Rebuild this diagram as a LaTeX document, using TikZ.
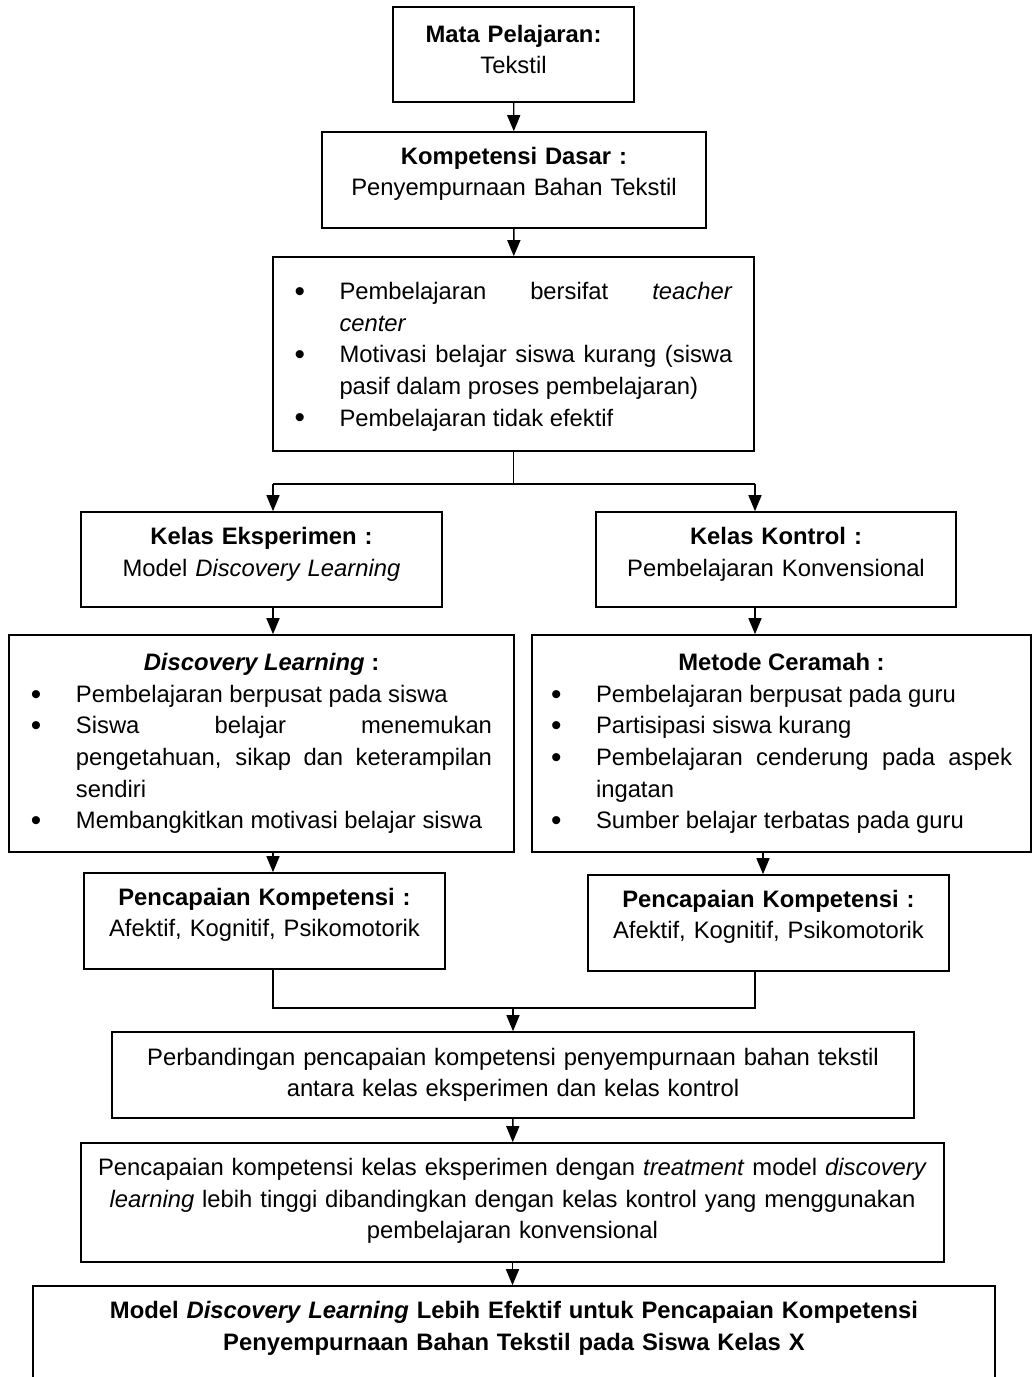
\documentclass[tikz,border=0pt]{standalone}
\usepackage{fontspec}
\usepackage{graphicx}
\setmainfont{Liberation Sans}
\usetikzlibrary{arrows.meta, positioning}
\hyphenpenalty=10000
\tolerance=9999
\hbadness=10000
\newlength{\jarakbutir}
\setlength{\jarakbutir}{22.5pt}
\newcommand{\titik}{\raisebox{-0.08em}{\scalebox{1.25}{\textbullet}}}
\newcommand{\butir}[1]{\par\noindent\hangindent=\jarakbutir\hangafter=1\makebox[\jarakbutir][l]{\titik}#1}
\newcommand{\ruangbawah}[1]{\par\vspace*{#1}}

\begin{document}
\begin{tikzpicture}[x=0.5pt, y=-0.5pt,
        kotak/.style={draw, line width=0.8pt, inner xsep=0pt, inner ysep=0pt, align=center,
            font=\fontsize{11.9}{15.8}\selectfont},
        angkat/.style={execute at end node={\ruangbawah{#1}}},
        garis/.style={line width=0.7pt},
        panah/.style={garis, -{Triangle[length=8pt, width=6.5pt]}}]
        \useasboundingbox (0,0) rectangle (1033,1377);

        \node[kotak, angkat=5pt, text width=110pt, minimum width=120.5pt, minimum height=47.5pt] (mapel) at (513.5,54.5)
            {\textbf{Mata Pelajaran:}\\ Tekstil};
        \node[kotak, angkat=6pt, text width=180pt, minimum width=192pt, minimum height=48pt] (kd) at (514,180)
            {\textbf{Kompetensi Dasar :}\\ Penyempurnaan Bahan Tekstil};
        \node[kotak, align=justify, angkat=4.5pt, text width=219pt, minimum width=240.5pt, minimum height=97pt] (masalah) at (513.5,354)
            {\butir{Pembelajaran bersifat \textit{teacher}\linebreak \textit{center}}%
             \butir{Motivasi belajar siswa kurang (siswa pasif dalam proses pembelajaran)}%
             \butir{Pembelajaran tidak efektif}};

        \node[kotak, angkat=5pt, text width=170pt, minimum width=180.5pt, minimum height=47.5pt] (eksp) at (261.5,559.5)
            {\textbf{Kelas Eksperimen :}\\ Model \textit{Discovery Learning}};
        \node[kotak, angkat=5pt, text width=170pt, minimum width=180pt, minimum height=47.5pt] (kontrol) at (776,559.5)
            {\textbf{Kelas Kontrol :}\\ Pembelajaran Konvensional};

        \node[kotak, align=justify, angkat=0pt, text width=230.5pt, minimum width=252.5pt, minimum height=108.5pt] (dl) at (261.5,743.5)
            {{\centering\textbf{\textit{Discovery Learning} :}\par}%
             \butir{Pembelajaran berpusat pada siswa}%
             \butir{Siswa belajar menemukan pengetahuan, sikap dan keterampilan sendiri}%
             \butir{Membangkitkan motivasi belajar siswa}};
        \node[kotak, align=justify, angkat=0pt, text width=230.5pt, minimum width=249.5pt, minimum height=108.5pt] (ceramah) at (781.5,743.5)
            {{\centering\textbf{Metode Ceramah :}\par}%
             \butir{Pembelajaran berpusat pada guru}%
             \butir{Partisipasi siswa kurang}%
             \butir{Pembelajaran cenderung pada aspek ingatan}%
             \butir{Sumber belajar terbatas pada guru}};

        \node[kotak, angkat=6pt, text width=170pt, minimum width=180.5pt, minimum height=48pt] (capai1) at (264.5,921)
            {\textbf{Pencapaian Kompetensi :}\\ Afektif, Kognitif, Psikomotorik};
        \node[kotak, angkat=6pt, text width=170pt, minimum width=180.5pt, minimum height=48pt] (capai2) at (768.5,923)
            {\textbf{Pencapaian Kompetensi :}\\ Afektif, Kognitif, Psikomotorik};

        \node[kotak, angkat=0pt, text width=390pt, minimum width=401pt, minimum height=43pt] (banding) at (513,1075)
            {Perbandingan pencapaian kompetensi penyempurnaan bahan tekstil\\ antara kelas eksperimen dan kelas kontrol};
        \node[kotak, angkat=1.5pt, text width=425pt, minimum width=431.5pt, minimum height=59.5pt] (hasil) at (512.5,1202.5)
            {Pencapaian kompetensi kelas eksperimen dengan \textit{treatment} model \textit{discovery}\\
             \textit{learning} lebih tinggi dibandingkan dengan kelas kontrol yang menggunakan\\
             pembelajaran konvensional};
        \node[kotak, angkat=27.5pt, text width=470pt, minimum width=481pt, minimum height=70pt] (simpulan) at (514,1356)
            {\textbf{Model \textit{Discovery Learning} Lebih Efektif untuk Pencapaian Kompetensi\\
             Penyempurnaan Bahan Tekstil pada Siswa Kelas X}};

        \coordinate (kiri) at (273,0);
        \coordinate (kanan) at (755,0);
        \coordinate (kananb) at (763,0);
        \coordinate (cabang) at (513,484);
        \coordinate (gabung) at (513,1008);

        \draw[panah] (mapel) -- (kd);
        \draw[panah] (kd) -- (masalah);
        \draw[garis] (masalah.south) -- (masalah.south |- cabang);
        \draw[garis] (cabang -| kiri) -- (cabang -| kanan);
        \draw[panah] (cabang -| kiri) -- (eksp.north -| kiri);
        \draw[panah] (cabang -| kanan) -- (kontrol.north -| kanan);
        \draw[panah] (eksp.south -| kiri) -- (dl.north -| kiri);
        \draw[panah] (kontrol.south -| kanan) -- (ceramah.north -| kanan);
        \draw[panah] (dl.south -| kiri) -- (capai1.north -| kiri);
        \draw[panah] (ceramah.south -| kananb) -- (capai2.north -| kananb);
        \draw[garis] (capai1.south -| kiri) -- (gabung -| kiri) -- (gabung -| kanan) -- (capai2.south -| kanan);
        \draw[panah] (gabung) -- (banding.north -| gabung);
        \draw[panah] (banding) -- (hasil);
        \draw[panah] (hasil.south) -- (hasil.south |- simpulan.north);
    \end{tikzpicture}
\end{document}
